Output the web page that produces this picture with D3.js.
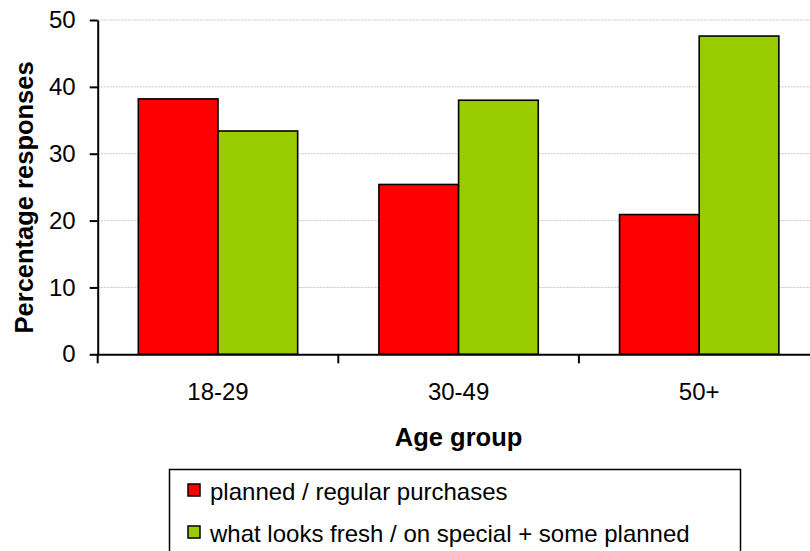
<!DOCTYPE html>
<html>
<head>
<meta charset="utf-8">
<script src="https://cdn.jsdelivr.net/npm/d3@7"></script>
<style>
  html, body { margin: 0; padding: 0; background: #fff; overflow: hidden; }
  svg { display: block; font-family: "Liberation Sans", Arial, sans-serif; }
</style>
</head>
<body>
<svg id="chart" width="810" height="551"></svg>
<script>
const categories = ["18-29", "30-49", "50+"];
const seriesNames = ["planned / regular purchases", "what looks fresh / on special + some planned"];
const plannedValues = [38.2, 25.4, 20.9];
const freshValues = [33.4, 38.0, 47.6];
const yTicks = [0, 10, 20, 30, 40, 50];
const seriesColors = ["#FF0000", "#99CC00"];

(function () {
const svg = d3.select("#chart");
const pLeft = 97.7, pRight = 819.5, pTop = 20, pBottom = 354.3;

const x0 = d3.scaleBand().domain(categories).range([pLeft, pRight]).padding(0);
const x1 = d3.scaleBand().domain(seriesNames).range([0, x0.bandwidth()]).paddingInner(0).paddingOuter(0.51);
const y = d3.scaleLinear().domain([0, 50]).range([pBottom, pTop]);

// gridlines
svg.append("g").selectAll("line").data(yTicks.filter(d => d > 0)).join("line")
  .attr("x1", pLeft).attr("x2", pRight)
  .attr("y1", d => y(d)).attr("y2", d => y(d))
  .attr("stroke", "#c8c8c8").attr("stroke-width", 1).attr("stroke-dasharray", "2,1");

const data = categories.map((c, i) => ({ cat: c, vals: [
  { s: seriesNames[0], v: plannedValues[i], c: seriesColors[0] },
  { s: seriesNames[1], v: freshValues[i], c: seriesColors[1] }
]}));

const groups = svg.append("g").selectAll("g").data(data).join("g")
  .attr("transform", d => `translate(${x0(d.cat)},0)`);
groups.selectAll("rect").data(d => d.vals).join("rect")
  .attr("x", d => x1(d.s))
  .attr("width", x1.bandwidth())
  .attr("y", d => y(d.v))
  .attr("height", d => y(0) - y(d.v))
  .attr("fill", d => d.c)
  .attr("stroke", "#000").attr("stroke-width", 1.6);

// y axis
const yAxis = d3.axisLeft(y).tickValues(yTicks).tickSize(8).tickPadding(14).tickSizeOuter(0);
const gy = svg.append("g").attr("transform", `translate(${pLeft},0)`).call(yAxis);
gy.select(".domain").attr("stroke", "#000").attr("stroke-width", 2);
gy.selectAll(".tick line").attr("stroke", "#000").attr("stroke-width", 2);
gy.selectAll(".tick text").attr("font-size", "24px").attr("fill", "#000")
  .attr("font-family", "'Liberation Sans', Arial, sans-serif");

// x axis
const xAxis = d3.axisBottom(x0).tickSize(0).tickSizeOuter(0).tickPadding(29);
const gx = svg.append("g").attr("transform", `translate(0,${pBottom})`).call(xAxis);
gx.select(".domain").attr("stroke", "#000").attr("stroke-width", 2);
gx.selectAll(".tick text").attr("font-size", "24px").attr("fill", "#000")
  .attr("font-family", "'Liberation Sans', Arial, sans-serif");
const boundaries = categories.map(c => x0(c)).concat([x0(categories[categories.length - 1]) + x0.bandwidth()]);
gx.append("g").selectAll("line").data(boundaries).join("line")
  .attr("x1", d => d).attr("x2", d => d).attr("y1", 0).attr("y2", 9)
  .attr("stroke", "#000").attr("stroke-width", 2);

// axis titles
svg.append("text")
  .attr("x", (pLeft + pRight) / 2).attr("y", 446)
  .attr("text-anchor", "middle").attr("font-weight", "bold").attr("font-size", "25.5px")
  .text("Age group");
svg.append("text")
  .attr("transform", "translate(33,197.4) rotate(-90)")
  .attr("text-anchor", "middle").attr("font-weight", "bold").attr("font-size", "25.5px")
  .text("Percentage responses");

// legend
const lg = svg.append("g");
lg.append("rect").attr("x", 169.5).attr("y", 469.5).attr("width", 571).attr("height", 100)
  .attr("fill", "#fff").attr("stroke", "#000").attr("stroke-width", 1.5);
const items = lg.selectAll("g.item").data(seriesNames).join("g").attr("class", "item")
  .attr("transform", (d, i) => `translate(0,${i * 42})`);
items.append("rect").attr("x", 188).attr("y", 484).attr("width", 12).attr("height", 12)
  .attr("fill", (d, i) => seriesColors[i]).attr("stroke", "#000").attr("stroke-width", 1.5);
items.append("text").attr("x", 210).attr("y", 500).attr("font-size", "24px").text(d => d);
})();
</script>
</body>
</html>
